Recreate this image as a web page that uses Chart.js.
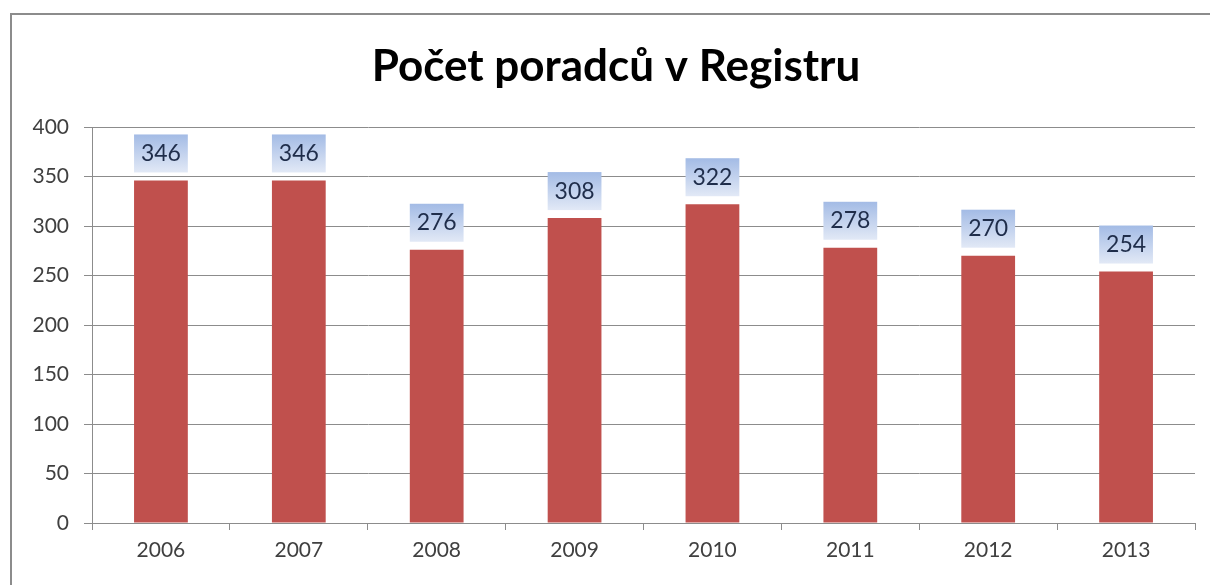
<!DOCTYPE html>
<html>
<head>
<meta charset="utf-8">
<script src="https://cdn.jsdelivr.net/npm/chart.js@4"></script>
<style>
  html, body { margin: 0; padding: 0; background: #fff; }
  #wrap { position: relative; width: 1210px; height: 585px; overflow: hidden; }
  #frame {
    position: absolute; left: 10px; top: 13px; width: 1300px; height: 700px;
    border-left: 2px solid #8c8c8c; border-top: 2px solid #8c8c8c;
  }
  canvas { position: absolute; left: 0; top: 0; }
</style>
</head>
<body>
<div id="wrap">
  <div id="frame"></div>
  <canvas id="chart" width="1210" height="585"></canvas>
</div>
<script>
const years = ["2006", "2007", "2008", "2009", "2010", "2011", "2012", "2013"];
const advisors = [346, 346, 276, 308, 322, 278, 270, 254];
const yTicks = [0, 50, 100, 150, 200, 250, 300, 350, 400];
const chartTitle = "Počet poradců v Registru";

const fontFamily = "Lato, 'Open Sans', sans-serif";

// blue boxes with the value above each bar
const valueBoxes = {
  id: "valueBoxes",
  afterDatasetsDraw(chart) {
    const ctx = chart.ctx;
    const meta = chart.getDatasetMeta(0);
    meta.data.forEach((bar, i) => {
      const w = bar.width;
      const left = bar.x - w / 2;
      const bottom = bar.y - 8;
      const h = 38;
      const grad = ctx.createLinearGradient(0, bottom - h, 0, bottom);
      grad.addColorStop(0, "#a3bbe5");
      grad.addColorStop(1, "#e2e9f6");
      ctx.save();
      ctx.fillStyle = grad;
      ctx.fillRect(left, bottom - h, w, h);
      ctx.fillStyle = "#1f2d4a";
      ctx.font = "23px " + fontFamily;
      ctx.textAlign = "center";
      ctx.textBaseline = "middle";
      ctx.fillText(String(advisors[i]), bar.x, bottom - h / 2);
      ctx.restore();
    });
  }
};

// title is centred a bit right of the canvas middle, like the original
const titleText = {
  id: "titleText",
  afterDraw(chart) {
    const ctx = chart.ctx;
    ctx.save();
    ctx.fillStyle = "#000";
    ctx.font = "bold 44px " + fontFamily;
    ctx.textAlign = "center";
    ctx.textBaseline = "middle";
    ctx.fillText(chartTitle, 616, 67);
    ctx.restore();
  }
};

new Chart(document.getElementById("chart"), {
  type: "bar",
  data: {
    labels: years,
    datasets: [{
      data: advisors,
      backgroundColor: "#c0504d",
      borderWidth: 0,
      categoryPercentage: 1,
      barPercentage: 0.39
    }]
  },
  options: {
    responsive: false,
    animation: false,
    devicePixelRatio: 1,
    layout: { padding: { left: 0, right: 15, top: 127, bottom: 0 } },
    plugins: {
      legend: { display: false },
      tooltip: { enabled: false },
      title: { display: false }
    },
    scales: {
      x: {
        grid: {
          offset: true,
          drawOnChartArea: false,
          color: "#8c8c8c",
          tickLength: 7
        },
        border: { color: "#8c8c8c", width: 1 },
        ticks: {
          color: "#404040",
          font: { family: fontFamily, size: 21 },
          padding: 8
        },
        afterFit(scale) { scale.height = 62; }
      },
      y: {
        min: 0,
        max: 400,
        afterBuildTicks(scale) { scale.ticks = yTicks.map(v => ({ value: v })); },
        grid: { color: "#8c8c8c", tickLength: 8 },
        border: { color: "#8c8c8c", width: 1 },
        ticks: {
          color: "#404040",
          font: { family: fontFamily, size: 21 },
          padding: 15
        },
        afterFit(scale) { scale.width = 92; }
      }
    }
  },
  plugins: [valueBoxes, titleText]
});
</script>
</body>
</html>
